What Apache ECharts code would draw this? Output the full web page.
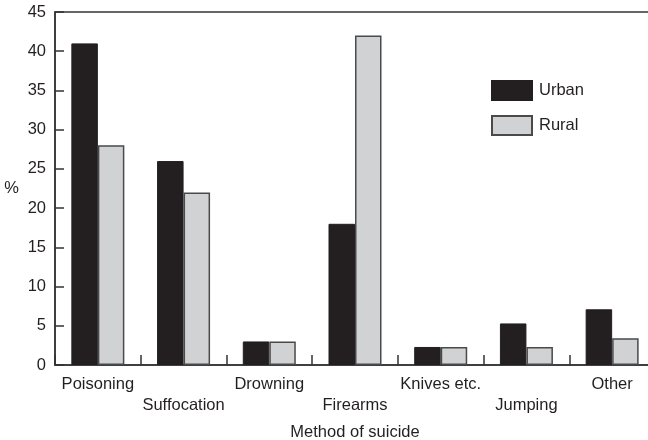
<!DOCTYPE html>
<html>
<head>
<meta charset="utf-8">
<script src="https://cdn.jsdelivr.net/npm/echarts@6/dist/echarts.min.js"></script>
<style>
html,body{margin:0;padding:0;background:#fff;}
#c{width:648px;height:440px;}
</style>
</head>
<body>
<div id="c"></div>
<script>
var categories = ['Poisoning', 'Suffocation', 'Drowning', 'Firearms', 'Knives etc.', 'Jumping', 'Other'];
var urban = [41, 26, 3, 18, 2.3, 5.3, 7.1];
var rural = [28, 22, 3, 42, 2.3, 2.3, 3.4];
var yTicks = {min: 0, max: 45, interval: 5};

var font = 'Liberation Sans, Arial, Helvetica, sans-serif';
var txt = '#231f20';
var fs = 16.5;
var chart = echarts.init(document.getElementById('c'), null, {renderer: 'canvas'});
chart.setOption({
  animation: false,
  backgroundColor: '#fff',
  textStyle: {fontFamily: font, color: txt},
  grid: {left: 55, top: 12, width: 600, height: 353, outerBoundsMode: 'none', containLabel: false,
         show: true, borderColor: '#333', borderWidth: 1.5, backgroundColor: 'transparent'},
  legend: {
    orient: 'vertical', left: 486, top: 75, itemWidth: 40, itemHeight: 19, itemGap: 14,
    icon: 'rect',
    textStyle: {fontSize: fs, color: txt, fontFamily: font, padding: [0, 0, 0, 2]},
    data: ['Urban', 'Rural']
  },
  xAxis: {
    type: 'category', data: categories,
    name: 'Method of suicide', nameLocation: 'middle', nameGap: 59,
    nameTextStyle: {fontSize: fs, color: txt, fontFamily: font},
    axisLine: {lineStyle: {color: '#333', width: 1.5}},
    axisTick: {show: true, inside: true, length: 10, lineStyle: {color: '#333', width: 1.5}},
    axisLabel: {
      fontSize: fs, color: txt, fontFamily: font, margin: 9, lineHeight: 21, interval: 0,
      formatter: function (v, i) { return i % 2 ? '\n' + v : v; }
    }
  },
  yAxis: {
    type: 'value', min: yTicks.min, max: yTicks.max, interval: yTicks.interval,
    name: '%', nameLocation: 'middle', nameRotate: 0, nameGap: 36,
    nameTextStyle: {fontSize: fs, color: txt, fontFamily: font, padding: [4, 0, 0, 0]},
    splitLine: {show: false},
    axisLine: {show: true, lineStyle: {color: '#333', width: 1.5}},
    axisTick: {show: true, inside: true, length: 9, lineStyle: {color: '#333', width: 1.5}},
    axisLabel: {fontSize: fs, color: txt, fontFamily: font, margin: 9}
  },
  series: [
    {name: 'Urban', type: 'bar', data: urban, barWidth: 26.5, barGap: '0%',
     itemStyle: {color: '#231f20', borderColor: '#231f20', borderWidth: 1}},
    {name: 'Rural', type: 'bar', data: rural, barWidth: 26.5, barGap: '0%',
     itemStyle: {color: '#d1d2d4', borderColor: '#4a4a4a', borderWidth: 1.5}}
  ]
});
</script>
</body>
</html>
